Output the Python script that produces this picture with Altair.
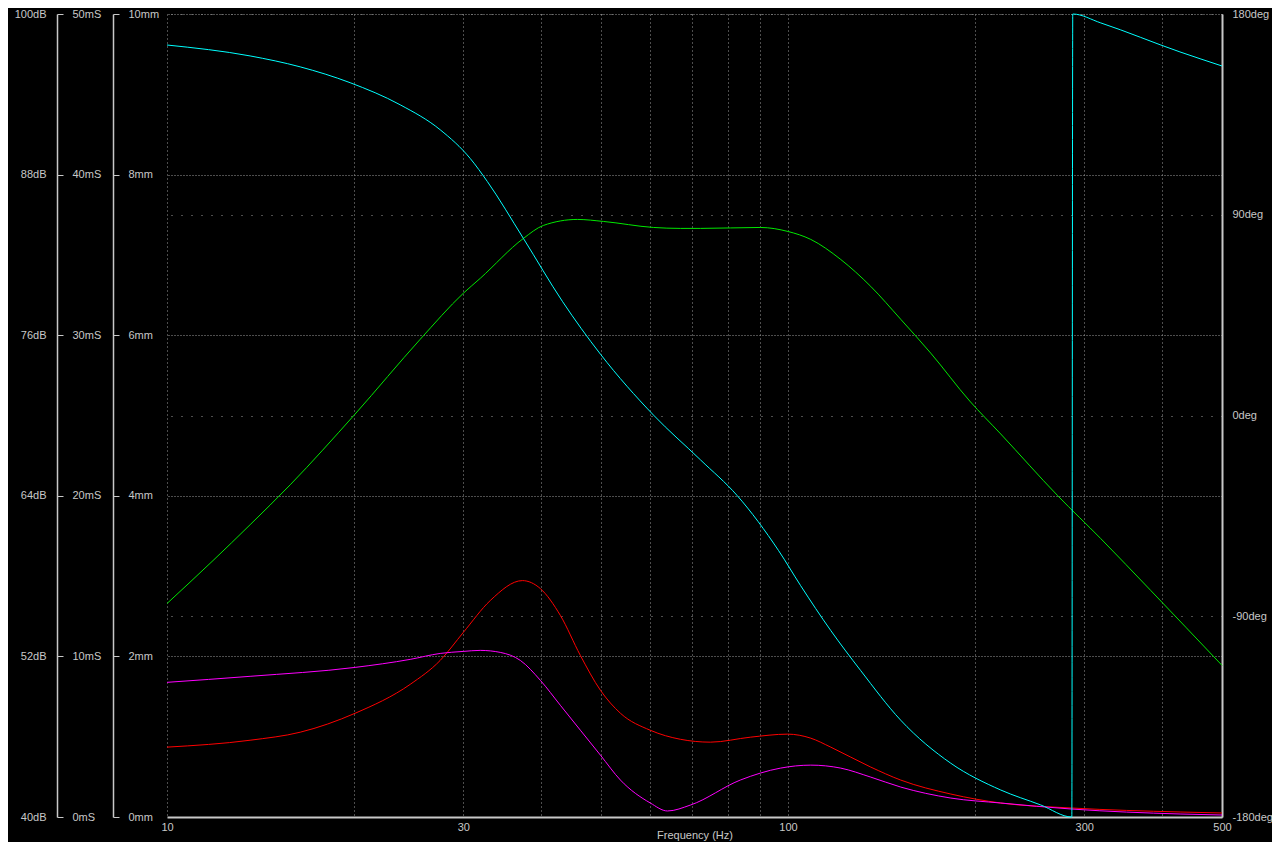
import altair as alt
import pandas as pd

# ---- data ----
# SPL (green, dB)
spl_freq = [10, 11.86, 13.61, 15.79, 20.09, 25.58, 30.0, 31.95, 37.49, 40.37, 45.8, 50.45,
            60.73, 67.1, 72.3, 90.3, 100, 108.8, 121.6, 135.9, 151.9, 169.8, 196.2,
            220.1, 272, 319, 384, 500]
spl_db = [55.95, 59.16, 61.84, 64.82, 70.11, 75.70, 79.13, 80.25, 83.23, 84.2, 84.65, 84.5,
          84.05, 83.98, 83.98, 84.05, 83.75, 83.16, 81.66, 79.65, 77.19, 74.66, 71.08,
          68.62, 64.0, 60.8, 56.92, 51.33]

# Phase (cyan, deg)
ph_freq = [10, 13.61, 16.39, 19.72, 23.74, 27.54, 30.79, 32.8, 37.49, 43.32, 49.89, 60.73,
           72.3, 82.9, 96.6, 104.8, 117.2, 130.9, 151.9, 182.9, 220.1, 255.3, 286.5,
           287.5, 319, 427.8, 500]
ph_deg = [166.1, 161.2, 156.3, 149.2, 139.3, 128.1, 115.2, 104.9, 79.4, 51.2, 27.5, 0.2,
          -19.9, -36.0, -60.6, -76.25, -96.4, -114.3, -136.6, -155.9, -167.9, -174.6, -180.0,
          180.0, 176.0, 163.0, 156.7]

# Group delay (red, mS)
gd_freq = [10, 13.61, 16.39, 20.09, 24.64, 27.54, 30.0, 33.16, 37.35, 39.93, 43.0, 46.31,
           49.89, 53.73, 60.03, 67.1, 75.0, 87.0, 99.9, 108.8, 117.2, 135.9, 151.9, 182.9,
           220.1, 286.5, 429.4, 500]
gd_ms = [4.35, 4.78, 5.28, 6.46, 8.26, 9.75, 11.49, 13.48, 14.72, 14.22, 12.55, 10.06,
         7.89, 6.46, 5.40, 4.84, 4.66, 4.97, 5.16, 4.91, 4.35, 3.11, 2.30, 1.43,
         0.87, 0.56, 0.31, 0.25]

# Excursion (magenta, mm)
ex_freq = [10, 13.61, 20.09, 24.64, 27.54, 30.0, 31.95, 34.41, 37.07, 39.93, 43.0, 46.31,
           49.89, 53.73, 60.03, 63.96, 69.66, 83.8, 97.3, 108.8, 121.6, 135.9, 151.9, 182.9,
           220.1, 286.5, 429.4, 500]
ex_mm = [1.677, 1.752, 1.863, 1.963, 2.037, 2.062, 2.075, 2.050, 1.950, 1.702, 1.391, 1.081,
         0.770, 0.460, 0.174, 0.075, 0.149, 0.460, 0.609, 0.646, 0.609, 0.497, 0.373, 0.236,
         0.174, 0.099, 0.037, 0.025]

x_grid = [10, 20, 30, 40, 50, 60, 70, 80, 90, 100, 200, 300, 400, 500]
x_labels = [10, 30, 100, 300, 500]
db_ticks = [40, 52, 64, 76, 88, 100]
ms_ticks = [0, 10, 20, 30, 40, 50]
mm_ticks = [0, 2, 4, 6, 8, 10]
deg_ticks = [-180, -90, 0, 90, 180]

# ---- styling ----
TXT = "#c8c8c8"
GRID = "#9a9a9a"
FONT = "Liberation Sans"
PLOT_W, PLOT_H = 1055, 803
LEFT = 167

spl_df = pd.DataFrame({"f": spl_freq, "v": spl_db})
ph_df = pd.DataFrame({"f": ph_freq, "v": ph_deg})
gd_df = pd.DataFrame({"f": gd_freq, "v": gd_ms})
ex_df = pd.DataFrame({"f": ex_freq, "v": ex_mm})

label_list = "[" + ",".join(str(v) for v in x_labels) + "]"
X = alt.X(
    "f:Q",
    scale=alt.Scale(type="log", domain=[10, 500], nice=False),
    axis=alt.Axis(
        values=x_grid,
        labelExpr=f"indexof({label_list}, datum.value) >= 0 ? '' + datum.value : ''",
        ticks=False,
        grid=True,
        gridDash=[1, 3],
        gridColor=GRID,
        gridWidth=1,
        domainColor=TXT,
        domainWidth=2,
        labelFlush=False,
        labelPadding=4,
        labelColor=TXT,
        labelFont=FONT,
        labelFontSize=11,
        title="Frequency (Hz)",
        titleFont=FONT,
        titleFontSize=11,
        titleFontWeight="normal",
        titleColor=TXT,
        titleY=18,
        titleBaseline="middle",
    ),
)


def y_enc(domain, axis):
    return alt.Y("v:Q", scale=alt.Scale(domain=domain, nice=False, zero=False), axis=axis)


common = dict(labelColor=TXT, labelFont=FONT, labelFontSize=11, title=None, labelBaseline="middle")

spl = alt.Chart(spl_df).mark_line(color="#00e800", strokeWidth=1, interpolate="monotone").encode(
    x=X,
    y=y_enc([40, 100], alt.Axis(orient="left", offset=110, values=db_ticks,
                                labelExpr="datum.value + 'dB'", domain=False, ticks=False,
                                grid=False, labelPadding=11, **common)),
)

gd = alt.Chart(gd_df).mark_line(color="#ff0000", strokeWidth=1, interpolate="monotone").encode(
    x=X,
    y=y_enc([0, 50], alt.Axis(orient="right", offset=57 - (LEFT + PLOT_W), values=ms_ticks,
                              labelExpr="datum.value + 'mS'", domain=True, domainColor=TXT,
                              domainWidth=1.5, ticks=True, tickSize=6, tickColor=TXT,
                              grid=False, labelPadding=9, labelAlign="left", **common)),
)

ex = alt.Chart(ex_df).mark_line(color="#ff00ff", strokeWidth=1, interpolate="monotone").encode(
    x=X,
    y=y_enc([0, 10], alt.Axis(orient="right", offset=113 - (LEFT + PLOT_W), values=mm_ticks,
                              labelExpr="datum.value + 'mm'", domain=True, domainColor=TXT,
                              domainWidth=1.5, ticks=True, tickSize=6, tickColor=TXT,
                              grid=True, gridDash=[1, 2], gridColor=GRID,
                              labelPadding=9, labelAlign="left", **common)),
)

ph = alt.Chart(ph_df).mark_line(color="#00ffff", strokeWidth=1, interpolate="monotone").encode(
    x=X,
    y=y_enc([-180, 180], alt.Axis(orient="right", offset=0, values=deg_ticks,
                                  labelExpr="datum.value + 'deg'", domain=True, domainColor=TXT,
                                  domainWidth=2, ticks=False, grid=True, gridDash=[1, 9],
                                  gridColor=GRID, labelPadding=10, labelAlign="left", **common)),
)

chart = (
    alt.layer(spl, gd, ex, ph)
    .resolve_scale(y="independent")
    .properties(
        width=PLOT_W,
        height=PLOT_H,
        autosize=alt.AutoSizeParams(type="none"),
        padding={"left": LEFT - 8, "top": 6, "right": 50, "bottom": 25},
        background="black",
    )
    .configure_view(stroke=None, fill="black")
)

chart.save("out.html", embed_options={"renderer": "svg", "actions": False})
